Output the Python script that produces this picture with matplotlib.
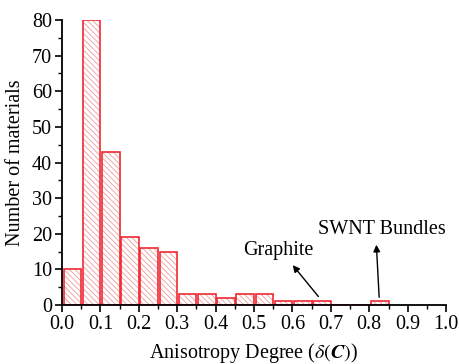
import matplotlib
matplotlib.use("Agg")
import matplotlib.pyplot as plt
from matplotlib.ticker import MultipleLocator

# histogram bin left edges (width 0.05) and counts
bin_left = [0.00, 0.05, 0.10, 0.15, 0.20, 0.25, 0.30, 0.35, 0.40, 0.45,
            0.50, 0.55, 0.60, 0.65, 0.70, 0.75, 0.80]
counts = [10, 80, 43, 19, 16, 15, 3, 3, 2, 3, 3, 1, 1, 1, 0, 0, 1]
bin_width = 0.05

x_ticks = [0.0, 0.1, 0.2, 0.3, 0.4, 0.5, 0.6, 0.7, 0.8, 0.9, 1.0]
y_ticks = [0, 10, 20, 30, 40, 50, 60, 70, 80]

plt.rcParams['font.family'] = ['Liberation Serif', 'DejaVu Serif']
plt.rcParams['hatch.linewidth'] = 0.6
plt.rcParams['mathtext.fontset'] = 'stix'

fig = plt.figure(figsize=(4.59, 3.64), dpi=100)
ax = fig.add_axes([0.135, 0.162, 0.837, 0.783])

red = '#ee2a32'
light = '#f29a9e'
gap = 0.004
# hatched fill in a lighter red, then the solid outline on top
ax.bar([b + gap for b in bin_left], counts, width=bin_width - gap, align='edge',
       color='white', edgecolor=light, hatch='\\\\\\\\\\\\', linewidth=0)
ax.bar([b + gap for b in bin_left], counts, width=bin_width - gap, align='edge',
       fill=False, edgecolor=red, linewidth=1.2)

ax.set_xlim(0, 1.0)
ax.set_ylim(0, 80)
ax.set_xticks(x_ticks)
ax.set_xticklabels([f'{t:.1f}' for t in x_ticks])
ax.set_yticks(y_ticks)
ax.xaxis.set_minor_locator(MultipleLocator(0.05))
ax.yaxis.set_minor_locator(MultipleLocator(5))
ax.tick_params(which='major', direction='out', length=5, width=1.2,
               labelsize=14.5, pad=2)
ax.tick_params(which='minor', direction='out', length=3, width=1.0)

for side in ['top', 'right']:
    ax.spines[side].set_visible(False)
for side in ['left', 'bottom']:
    ax.spines[side].set_linewidth(1.3)

ax.set_xlabel(r'Anisotropy Degree ($\delta(\boldsymbol{C})$)', fontsize=14.5, labelpad=5)
ax.set_ylabel('Number of materials', fontsize=14.5, labelpad=5)

arrow = dict(arrowstyle='-|>', color='black', lw=1.0, mutation_scale=10)
ax.annotate('', xy=(0.596, 11.8), xytext=(0.672, 1.8), arrowprops=arrow)
ax.text(0.5625, 15.4, 'Graphite', ha='center', va='center', fontsize=14.5)
ax.annotate('', xy=(0.818, 17.7), xytext=(0.826, 1.4), arrowprops=arrow)
ax.text(0.833, 21.3, 'SWNT Bundles', ha='center', va='center', fontsize=14.5)

fig.savefig('out.png', dpi=100)
